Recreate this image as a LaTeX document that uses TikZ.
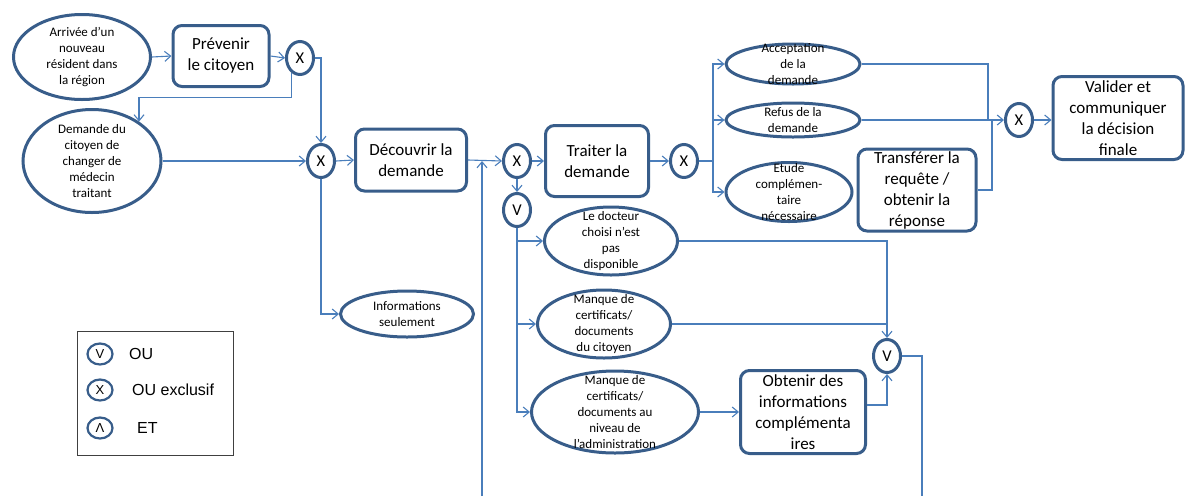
\documentclass[tikz,border=0pt]{standalone}
\usepackage{fontspec}
\setmainfont{Carlito}
\newfontfamily\legendfont{Liberation Sans}
\usetikzlibrary{shapes.geometric,arrows.meta}
\definecolor{nodeblue}{HTML}{385D8A}
\definecolor{flowblue}{HTML}{4A7EBB}

\begin{document}
\begin{tikzpicture}[
  x=1pt, y=-1pt,
  link/.style = {draw=flowblue, line width=1.1pt},
  arrow/.style = {link, -{Straight Barb[length=6pt,width=10pt]}},
  ev/.style = {ellipse, draw=nodeblue, line width=3pt, fill=white, inner sep=0pt},
  evtext/.style = {font=\fontsize{13}{16.2}\selectfont, align=center, inner sep=0pt},
  task/.style = {rectangle, rounded corners=9pt, draw=nodeblue, line width=3pt,
    fill=white, inner sep=0pt, align=center, font=\fontsize{17}{21}\selectfont},
  gate/.style = {ellipse, draw=nodeblue, line width=3pt, fill=white, inner sep=0pt,
    minimum width=27pt, minimum height=33pt, font=\fontsize{16.5}{16.5}\selectfont}]
  \useasboundingbox (0,0) rectangle (1185,496);

  % evenements
  \node[ev, minimum width=137pt, minimum height=85pt,
    label={[evtext]center:{Arrivée d'un\\nouveau\\résident dans\\la région}}] (arrivee) at (82,57) {};
  \node[ev, minimum width=138pt, minimum height=103pt,
    label={[evtext]center:{Demande du\\citoyen de\\changer de\\médecin\\traitant}}] (demande) at (92,161) {};
  \node[ev, minimum width=133pt, minimum height=46pt,
    label={[evtext]center:{Informations\\seulement}}] (info) at (407,314) {};
  \node[ev, minimum width=134pt, minimum height=40pt,
    label={[evtext]center:{Acceptation\\de la\\demande}}] (accept) at (793,64) {};
  \node[ev, minimum width=134pt, minimum height=34pt,
    label={[evtext]center:{Refus de la\\demande}}] (refus) at (793,120) {};
  \node[ev, minimum width=126pt, minimum height=59pt,
    label={[evtext]center:{Etude\\complémen-\\taire\\nécessaire}}] (etude) at (789,192) {};
  \node[ev, minimum width=133pt, minimum height=68pt,
    label={[evtext]center:{Le docteur\\choisi n'est\\pas\\disponible}}] (docteur) at (611,241) {};
  \node[ev, minimum width=133pt, minimum height=68pt,
    label={[evtext]center:{Manque de\\certificats/\\documents\\du citoyen}}] (citoyen) at (604,324) {};
  \node[ev, minimum width=167pt, minimum height=82pt,
    label={[evtext]center:{Manque de\\certificats/\\documents au\\niveau de\\l'administration}}] (admin) at (615,412) {};

  % taches
  \node[task, minimum width=96pt, minimum height=61pt] (prevenir) at (221,56) {Prévenir\\le citoyen};
  \node[task, minimum width=111pt, minimum height=62pt] (decouvrir) at (411,160) {Découvrir la\\demande};
  \node[task, minimum width=103pt, minimum height=71pt] (traiter) at (597,161) {Traiter la\\demande};
  \node[task, minimum width=118pt, minimum height=82pt] (transferer) at (917,190) {Transférer la\\requête /\\obtenir la\\réponse};
  \node[task, minimum width=130pt, minimum height=83pt] (valider) at (1118,118) {Valider et\\communiquer\\la décision\\finale};
  \node[task, minimum width=125pt, minimum height=83pt] (obtenir) at (803,412) {Obtenir des\\informations\\complémenta\\ires};

  % portes
  \foreach \n/\x/\y/\t in {gx1/300/58/X, gx2/321/161/X, gx3/517/161/X, gv1/517/210/V,
                           gx4/684/161/X, gx5/1019/120/X, gv2/887/356/V}
    \node[gate] (\n) at (\x,\y) {\t};

  \coordinate (retour) at (482,496);
  \coordinate (sortie) at (922,496);
  \coordinate (b4) at (713,161);
  \coordinate (j1) at (988,120);
  \coordinate (j2) at (992,120);

  % flux
  \draw[arrow] (arrivee.east) -- (prevenir.west);
  \draw[arrow] (prevenir.east) -- (gx1.west);
  \draw[arrow] (gx1.east) -| (gx2.north);
  \draw[arrow] (gx1.240) -- ++(0,25) -| (demande.40);
  \draw[arrow] (demande.east) -- (gx2.west);
  \draw[arrow] (gx2.east) -- (decouvrir.west);
  \draw[arrow] (gx2.south) |- (info.west);
  \draw[arrow] (decouvrir.east) -- (gx3.west);
  \draw[arrow] (retour) -- (retour |- gx3.west);
  \draw[arrow] (gx3.east) -- (traiter.west);
  \draw[arrow] (gx3.south) -- (gv1.north);
  \foreach \n in {docteur, citoyen, admin}
    \draw[arrow] (gv1.south) |- (\n.west);
  \draw[arrow] (traiter.east) -- (gx4.west);
  \draw[link] (gx4.east) -- (b4);
  \foreach \n in {accept, refus, etude}
    \draw[arrow] (b4) |- (\n.west);
  \draw[link] (accept.east) -| (j1);
  \draw[arrow] (refus.east) -- (gx5.west);
  \draw[link] (transferer.east) -| (j2);
  \draw[arrow] (gx5.east) -- (gx5.east -| valider.west);
  \draw[arrow] (docteur.east) -| (gv2.north);
  \draw[link] (citoyen.east) -- (citoyen.east -| gv2.north);
  \draw[arrow] (admin.east) -- (obtenir.west);
  \draw[arrow] ([yshift=7pt]obtenir.east) -| (gv2.south);
  \draw[link] (gv2.east) -| (sortie);

  % legende
  \node[draw=black!75, line width=0.9pt, minimum width=156pt, minimum height=124pt] (legende) at (155,393) {};
  \foreach \i/\s/\t/\x/\y in {1/V/OU/129/354, 2/X/OU exclusif/132/390, 3/Λ/ET/137/428} {
    \node[ellipse, draw=nodeblue, line width=2.2pt, inner sep=0pt, minimum width=25pt,
      minimum height=21pt, font=\legendfont\fontsize{13}{13}\selectfont] (leg\i) at (100,\y) {\s};
    \node[anchor=west, inner sep=0pt, font=\legendfont\fontsize{16}{16}\selectfont] (legtext\i) at (\x,\y) {\t};
  }
\end{tikzpicture}
\end{document}
